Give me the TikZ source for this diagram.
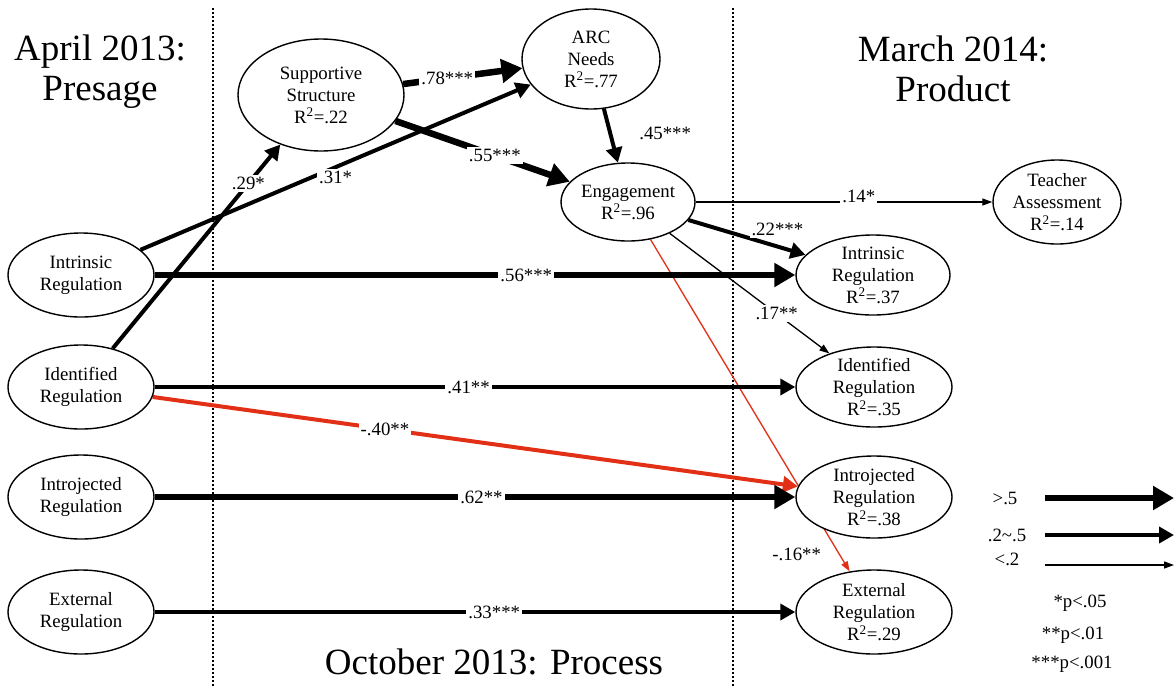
\documentclass[tikz,border=0pt]{standalone}
\usepackage{fontspec}
\setmainfont{Liberation Serif}
\usetikzlibrary{shapes.geometric,arrows.meta}
\definecolor{pathred}{RGB}{226,48,22}
\pgfdeclarelayer{back}
\pgfsetlayers{back,main}

\begin{document}
\begin{tikzpicture}[x=1pt,y=-1pt,
  every node/.style={font=\fontsize{18.8}{22}\selectfont},
  var/.style={ellipse,draw,line width=1.4pt,fill=white,align=center,inner sep=-6pt},
  heavy/.style={line width=6.5pt,-{Triangle[length=21pt,width=23pt]}},
  medium/.style={line width=4pt,-{Triangle[length=15pt,width=16pt]}},
  light/.style={line width=1.3pt,-{Triangle[length=10pt,width=7pt]}},
  coef/.style={fill=white,inner sep=2pt},
  sep/.style={line width=1.2pt,dash pattern=on 1.5pt off 2.5pt},
  title/.style={font=\fontsize{37}{40}\selectfont,align=center}
]
\useasboundingbox (0,0) rectangle (1174,686);

% period headings
\node[title] (t1) at (100,72) {April 2013:\\Presage};
\node[title] (t2) at (953,69) {March 2014:\\Product};
\node[title] (t3) at (494,662) {October 2013: Process};

% April 2013 motivation
\node[var,minimum width=146pt,minimum height=84pt] (inL) at (81,275) {Intrinsic\\Regulation};
\node[var,minimum width=146pt,minimum height=84pt] (idL) at (81,387) {Identified\\Regulation};
\node[var,minimum width=146pt,minimum height=84pt] (ijL) at (81,497) {Introjected\\Regulation};
\node[var,minimum width=146pt,minimum height=84pt] (exL) at (81,612) {External\\Regulation};

% October 2013 process
\node[var,minimum width=166pt,minimum height=112pt] (sup) at (321,95) {Supportive\\Structure\\R\textsuperscript{2}=.22};
\node[var,minimum width=138pt,minimum height=100pt] (arc) at (591,59) {ARC\\Needs\\R\textsuperscript{2}=.77};
\node[var,minimum width=134pt,minimum height=78pt] (eng) at (628,202) {Engagement\\R\textsuperscript{2}=.96};

% March 2014 outcomes
\node[var,minimum width=128pt,minimum height=84pt] (tch) at (1057,202) {Teacher\\Assessment\\R\textsuperscript{2}=.14};
\node[var,minimum width=154pt,minimum height=80pt] (inR) at (873,275) {Intrinsic\\Regulation\\R\textsuperscript{2}=.37};
\node[var,minimum width=156pt,minimum height=80pt] (idR) at (874,387) {Identified\\Regulation\\R\textsuperscript{2}=.35};
\node[var,minimum width=156pt,minimum height=82pt] (ijR) at (874,497) {Introjected\\Regulation\\R\textsuperscript{2}=.38};
\node[var,minimum width=156pt,minimum height=84pt] (exR) at (874,612) {External\\Regulation\\R\textsuperscript{2}=.29};

% legend
\node (g1) at (1005,498) {>.5};
\node (g2) at (1007,535) {.2\textasciitilde.5};
\node (g3) at (1007,559) {<.2};
\coordinate (a1s) at (1045,498); \coordinate (a1e) at (1174,498);
\coordinate (a2s) at (1045,535); \coordinate (a2e) at (1174,535);
\coordinate (a3s) at (1045,565); \coordinate (a3e) at (1174,565);
\node (s1) at (1080,603) {*p<.05};
\node (s2) at (1073,635) {**p<.01};
\node (s3) at (1072,664) {***p<.001};

\begin{pgfonlayer}{back}
  % period separators
  \draw[sep] (213,8) -- (213,686);
  \draw[sep] (733,8) -- (733,686);

  \draw[heavy] (a1s) -- (a1e);
  \draw[medium] (a2s) -- (a2e);
  \draw[light] (a3s) -- (a3e);

  \draw[medium] (idL) -- node[coef,pos=0.81]{.29*} (sup);
  \draw[medium] (inL) -- node[coef,pos=0.5,yshift=-10pt]{.31*} (arc);
  \draw[heavy] (sup) -- node[coef,pos=0.37]{.78***} (arc);
  \draw[heavy] (sup) -- node[coef,pos=0.57]{.55***} (eng);
  \draw[medium] (arc) -- node[pos=0.45,xshift=55pt]{.45***} (eng);
  \draw[light] (eng) -- node[coef,pos=0.55,yshift=6pt]{.14*} (tch);
  \draw[medium] (eng) -- node[coef,pos=0.76,yshift=17pt]{.22***} (inR);
  \draw[light] (eng) -- node[coef,pos=0.67]{.17**} (idR);
  \draw[light,pathred] (eng) -- node[pos=0.95,xshift=-43pt,text=black]{-.16**} (exR);
  \draw[medium,pathred] (idL) -- node[coef,pos=0.36,text=black]{-.40**} (ijR);

  \draw[heavy] (inL) -- node[coef,pos=0.58]{.56***} (inR);
  \draw[medium] (idL) -- node[coef,pos=0.49]{.41**} (idR);
  \draw[heavy] (ijL) -- node[coef,pos=0.51]{.62**} (ijR);
  \draw[medium] (exL) -- node[coef,pos=0.53]{.33***} (exR);
\end{pgfonlayer}
\end{tikzpicture}
\end{document}
